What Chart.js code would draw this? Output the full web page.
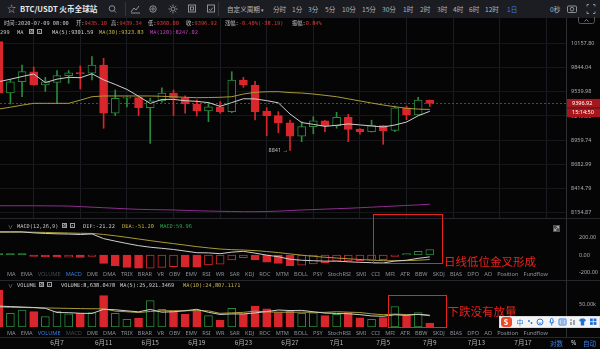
<!DOCTYPE html>
<html>
<head>
<meta charset="utf-8">
<title>BTC/USDT 火币全球站 1日</title>
<script src="https://cdn.jsdelivr.net/npm/chart.js@4.4.1/dist/chart.umd.min.js"></script>
<style>
  html, body { margin: 0; padding: 0; background: #050505; }
  #wrap { position: relative; width: 600px; height: 349px; overflow: hidden; background: #050505;
          font-family: "Noto Sans", "Noto Sans CJK SC", sans-serif; color: #c8c8c8; }
  canvas { position: absolute; left: 0; }
  .t { position: absolute; white-space: nowrap; line-height: 1; }
  .cjk { font-family: "Noto Sans CJK SC", sans-serif; }
  .mono { font-family: "DejaVu Sans Mono", "Noto Sans CJK SC", monospace; font-size: 5.3px; color: #c8c8c8; }
  .r { color: #e0393c; }
  .hl { position: absolute; left: 0; width: 600px; height: 1px; background: #25272c; }
  .tabs { position: absolute; left: 7px; width: 541px; display: flex; justify-content: space-between;
          font-size: 5.6px; line-height: 1; color: #8c9199; }
  .tabs .on { color: #3b7fe0; }
  .tabs .off { color: #46494e; }
  .ico { position: absolute; width: 5px; height: 5px; border: 1px solid #9a9da2; box-sizing: border-box;
         font-size: 4px; line-height: 3px; text-align: center; color: #ddd; }
  .note { position: absolute; white-space: nowrap; color: #e8231c; font-family: "Noto Sans CJK SC", sans-serif;
          font-size: 11.5px; line-height: 1; }
  .box { position: absolute; border: 1.5px solid #e8231c; box-sizing: border-box; }
</style>
</head>
<body>
<div id="wrap">
  <!-- top toolbar -->
  <div style="position:absolute;left:0;top:0;width:600px;height:18px;background:#1b1d22;"></div>
  <div class="t" style="left:7px;top:4px;font-size:9px;color:#b8b8b8;">☆</div>
  <div class="t cjk" style="left:20px;top:5px;font-size:7.6px;font-weight:bold;color:#e8e8e8;">BTC/USDT 火币全球站</div>
  <svg style="position:absolute;left:0;top:0;" width="600" height="18">
    <g fill="none" stroke="#9a9da2" stroke-width="0.9">
      <circle cx="112" cy="8.5" r="2.8"/><line x1="114" y1="10.5" x2="116" y2="12.5"/>
      <polyline points="131,12 134,8 136,10 139,6"/><line x1="131" y1="13" x2="140" y2="13"/>
      <circle cx="153" cy="9" r="3.2"/><circle cx="153" cy="9" r="1.2"/>
      <circle cx="173" cy="9" r="2"/>
      <path d="M173 4.5v1.5M173 12v1.5M168.5 9h1.5M176 9h1.5M169.8 5.8l1 1M175.2 11.2l1 1M169.8 12.2l1-1M175.2 6.8l1-1"/>
      <rect x="188.5" y="5" width="7" height="7"/><rect x="190.5" y="7" width="3" height="3"/>
      <rect x="207.5" y="5" width="7" height="7"/><polyline points="209,9 210.5,10.5 213,7.5"/>
      <rect x="567.5" y="6" width="9" height="6.5" rx="1"/><circle cx="572" cy="9.2" r="1.8"/>
      <path d="M587 6.5v-2h2M593 4.5h2v2M595 11.5v2h-2M589 13.5h-2v-2"/>
    </g>
    <line x1="125.5" y1="2" x2="125.5" y2="16" stroke="#33363c"/>
    <line x1="218.5" y1="2" x2="218.5" y2="16" stroke="#33363c"/>
  </svg>
  <div class="t cjk" style="left:227px;top:5.7px;font-size:6.6px;color:#b4b6ba;">自定义周期 <span style="font-size:5px;">▾</span></div>
  <div class="t cjk" style="left:273px;top:5.7px;font-size:6.6px;color:#b4b6ba;">分时</div>
  <div class="t cjk" style="left:292px;top:5.7px;font-size:6.6px;color:#b4b6ba;">1分</div>
  <div class="t cjk" style="left:308px;top:5.7px;font-size:6.6px;color:#b4b6ba;">3分</div>
  <div class="t cjk" style="left:325px;top:5.7px;font-size:6.6px;color:#b4b6ba;">5分</div>
  <div class="t cjk" style="left:342px;top:5.7px;font-size:6.6px;color:#b4b6ba;">10分</div>
  <div class="t cjk" style="left:362px;top:5.7px;font-size:6.6px;color:#b4b6ba;">15分</div>
  <div class="t cjk" style="left:382px;top:5.7px;font-size:6.6px;color:#b4b6ba;">30分</div>
  <div class="t cjk" style="left:403px;top:5.7px;font-size:6.6px;color:#b4b6ba;">1时</div>
  <div class="t cjk" style="left:420px;top:5.7px;font-size:6.6px;color:#b4b6ba;">2时</div>
  <div class="t cjk" style="left:437px;top:5.7px;font-size:6.6px;color:#b4b6ba;">3时</div>
  <div class="t cjk" style="left:453px;top:5.7px;font-size:6.6px;color:#b4b6ba;">4时</div>
  <div class="t cjk" style="left:469px;top:5.7px;font-size:6.6px;color:#b4b6ba;">6时</div>
  <div class="t cjk" style="left:485px;top:5.7px;font-size:6.6px;color:#b4b6ba;">12时</div>
  <div class="t cjk" style="left:507px;top:5.7px;font-size:6.6px;color:#3b7fe0;">1日</div>
  <div class="t cjk" style="left:550px;top:5.7px;font-size:6.6px;color:#b4b6ba;">0秒</div>

  <!-- the three panels -->
  <canvas id="priceChart" width="600" height="201" style="top:18px;"></canvas>
  <canvas id="macdChart" width="600" height="62" style="top:219px;"></canvas>
  <canvas id="volumeChart" width="600" height="68" style="top:281px;"></canvas>

  <div class="hl" style="top:218px;"></div>
  <div class="hl" style="top:280px;"></div>
  <div class="hl" style="top:337px;"></div>
  <div style="position:absolute;left:566px;top:18px;width:1px;height:320px;background:#2c2e33;"></div>
  <svg style="position:absolute;left:578px;top:17px;" width="18" height="8">
    <path d="M0.5 0v4.5q0 2 2 2h12q2 0 2-2V0" fill="none" stroke="#55585d"/>
    <polyline points="6.5,4.5 8.5,2.5 10.5,4.5" fill="none" stroke="#9a9da2" stroke-width="0.8"/>
  </svg>

  <!-- quote line -->
  <div class="t mono" style="left:4px;top:21px;">时间:2020-07-09 08:00</div>
  <div class="t mono" style="left:76px;top:21px;">开:<span class="r">9435.10</span></div>
  <div class="t mono" style="left:111px;top:21px;">高:<span class="r">9439.34</span></div>
  <div class="t mono" style="left:148px;top:21px;">低:<span class="r">9360.00</span></div>
  <div class="t mono" style="left:186px;top:21px;">收:<span class="r">9396.92</span></div>
  <div class="t mono" style="left:225px;top:21px;">涨幅:<span class="r">-0.40%(-38.19)</span></div>
  <div class="t mono" style="left:292px;top:21px;">振幅:<span class="r">0.84%</span></div>

  <!-- MA legend -->
  <div class="t mono" style="left:0px;top:29.5px;">299</div>
  <div class="t mono" style="left:17px;top:29.5px;">MA</div>
  <div class="ico" style="left:29px;top:29px;">⚙</div>
  <div class="ico" style="left:37px;top:29px;">×</div>
  <div class="t mono" style="left:52px;top:29.5px;color:#d2d2d2;">MA(5):9301.59</div>
  <div class="t mono" style="left:99px;top:29.5px;color:#c9b648;">MA(30):9323.83</div>
  <div class="t mono" style="left:150px;top:29.5px;color:#c244c2;">MA(120):8247.02</div>

  <!-- MACD legend -->
  <div class="t" style="left:8px;top:223.5px;font-size:5px;color:#9a9da2;">∨</div>
  <div class="t mono" style="left:17px;top:223.5px;">MACD(12,26,9)</div>
  <div class="ico" style="left:62px;top:223px;">⚙</div>
  <div class="ico" style="left:70px;top:223px;">×</div>
  <div class="t mono" style="left:83px;top:223.5px;color:#d2d2d2;">DIF:-21.22</div>
  <div class="t mono" style="left:122px;top:223.5px;color:#c9b648;">DEA:-51.20</div>
  <div class="t mono" style="left:160px;top:223.5px;color:#2faa4c;">MACD:59.96</div>
  <svg style="position:absolute;left:553px;top:225px;" width="7" height="7">
    <rect x="0" y="0" width="7" height="7" fill="#4e5156"/>
    <path d="M1.5 5.5l4-4M1.5 3.5v2h2M5.5 3.5v-2h-2" fill="none" stroke="#c8c8c8" stroke-width="0.7"/>
  </svg>

  <!-- VOLUME legend -->
  <div class="t" style="left:8px;top:282.5px;font-size:5px;color:#9a9da2;">∨</div>
  <div class="t mono" style="left:17px;top:282.5px;">VOLUME</div>
  <div class="ico" style="left:39px;top:282px;">⚙</div>
  <div class="ico" style="left:47px;top:282px;">×</div>
  <div class="t mono" style="left:61px;top:282.5px;color:#d2d2d2;">VOLUME:8,638.0478</div>
  <div class="t mono" style="left:120px;top:282.5px;color:#d2d2d2;">MA(5):25,921.3469</div>
  <div class="t mono" style="left:183px;top:282.5px;color:#c9b648;">MA(10):24,807.1171</div>

  <div class="tabs" id="tabsMacd" style="top:272.3px;"></div>
  <div class="tabs" id="tabsVol" style="top:330.5px;"></div>

  <div class="t cjk" style="left:550px;top:340px;font-size:6.5px;color:#3b7fe0;">对数</div>
  <div class="t" style="left:571px;top:340px;font-size:6.5px;color:#d0d0d0;">%</div>
  <div class="t cjk" style="left:583px;top:340px;font-size:6.5px;color:#3b7fe0;">自动</div>

  <!-- marked areas -->
  <div class="box" style="left:373px;top:214px;width:70px;height:50px;"></div>
  <div class="note" style="left:444px;top:256px;">日线低位金叉形成</div>
  <div class="box" style="left:388px;top:295px;width:59px;height:33px;"></div>
  <div class="note" style="left:447.5px;top:306px;">下跌没有放量</div>

  <!-- input method bar -->
  <div style="position:absolute;left:499px;top:316px;width:101px;height:12px;background:#f3f3f3;border:1px solid #dcdcdc;box-sizing:border-box;"></div>
  <div class="t" style="left:500.5px;top:317.3px;width:11px;height:9.5px;background:#ee4a2a;border-radius:3px;color:#fff;font-size:8px;font-weight:bold;text-align:center;line-height:9.5px;">S</div>
  <div class="t cjk" style="left:516.5px;top:318.5px;font-size:7px;color:#1e6fd9;">中</div>
  <svg style="position:absolute;left:526px;top:316px;" width="74" height="12">
    <g fill="#1e6fd9" stroke="none">
      <circle cx="3" cy="5" r="0.9"/><circle cx="5.5" cy="7" r="0.9"/>
    </g>
    <g fill="none" stroke="#1e6fd9" stroke-width="0.9">
      <circle cx="14" cy="6" r="3"/><path d="M12.6 6.8q1.4 1.3 2.8 0"/>
      <rect x="24.5" y="2.5" width="2.5" height="4.5" rx="1.2"/><path d="M23.5 5.5q2.2 3.5 4.5 0M25.7 8v1.5"/>
      <rect x="33" y="3" width="7" height="6" rx="0.8"/><path d="M34.5 5h4M34.5 7h4"/>
    </g>
    <g fill="#9fa3a8"><rect x="44" y="6" width="2" height="3"/><rect x="47" y="4" width="2" height="5"/><circle cx="45" cy="4" r="1"/></g>
    <path d="M53 4l2-1.5h3l2 1.5-1 1.5h-0.8V9.5h-3.4V5.5H54z" fill="#1e6fd9"/>
    <g fill="#1e6fd9"><rect x="64" y="2.5" width="2.8" height="2.8"/><rect x="67.6" y="2.5" width="2.8" height="2.8"/><rect x="64" y="6.1" width="2.8" height="2.8"/><rect x="67.6" y="6.1" width="2.8" height="2.8"/></g>
  </svg>
</div>

<script>
// daily candles, 2 June – 9 July
const dates = ['6月2','6月3','6月4','6月5','6月6','6月7','6月8','6月9','6月10','6月11',
  '6月12','6月13','6月14','6月15','6月16','6月17','6月18','6月19','6月20','6月21',
  '6月22','6月23','6月24','6月25','6月26','6月27','6月28','6月29','6月30','7月1',
  '7月2','7月3','7月4','7月5','7月6','7月7','7月8','7月9'];
const opens = [10180, 9525, 9665, 9790, 9624, 9657, 9741, 9780, 9771, 9876,
  9278, 9460, 9468, 9345, 9430, 9525, 9460, 9390, 9305, 9357,
  9298, 9686, 9624, 9305, 9249, 9165, 9008, 9118, 9189, 9130,
  9230, 9090, 9060, 9130, 9075, 9345, 9258, 9435.10];
const highs = [10230, 9690, 9876, 9850, 9720, 9805, 9805, 9866, 9983, 9962,
  9562, 9480, 9480, 9460, 9590, 9562, 9490, 9440, 9412, 9420,
  9791, 9720, 9670, 9345, 9297, 9198, 9178, 9237, 9195, 9290,
  9265, 9095, 9195, 9135, 9365, 9365, 9470, 9439.34];
const lows = [9270, 9390, 9480, 9620, 9544, 9397, 9645, 9575, 9686, 9100,
  9250, 9355, 9250, 8924, 9412, 9250, 9278, 9245, 9178, 9278,
  9285, 9595, 9198, 9012, 9047, 8841, 8943, 9035, 9060, 9100,
  8943, 9030, 9055, 8913, 9060, 9200, 9255, 9360.00];
const closes = [9525, 9665, 9791, 9624, 9665, 9741, 9778, 9765, 9876, 9278,
  9460, 9468, 9345, 9430, 9525, 9460, 9390, 9305, 9357, 9298,
  9686, 9624, 9297, 9249, 9165, 9008, 9118, 9189, 9130, 9230,
  9087, 9060, 9130, 9070, 9345, 9258, 9439, 9396.92];

const ma5 = [9665, 9696, 9730, 9762, 9654, 9697, 9720, 9715, 9765, 9688,
  9631, 9569, 9485, 9396, 9446, 9446, 9430, 9422, 9407, 9362,
  9407, 9454, 9452, 9431, 9404, 9269, 9167, 9146, 9122, 9135,
  9151, 9139, 9127, 9115, 9138, 9173, 9248, 9301.59];
const ma30 = [9329, 9351, 9376, 9398, 9398, 9398, 9398, 9437, 9479, 9488,
  9488, 9488, 9488, 9488, 9484, 9478, 9472, 9467, 9469, 9472,
  9479, 9512, 9533, 9540, 9541, 9530, 9524, 9512, 9496, 9479,
  9453, 9427, 9402, 9378, 9357, 9338, 9328, 9323.83];
const ma120 = [8231, 8231, 8231, 8231, 8230, 8229, 8228, 8222, 8216, 8210,
  8204, 8198, 8193, 8190, 8188, 8186, 8182, 8178, 8175, 8172,
  8170, 8168, 8168, 8170, 8174, 8180, 8186, 8190, 8195, 8200,
  8204, 8210, 8216, 8222, 8228, 8234, 8240, 8247.02];

// MACD(12,26,9)
const dif = [261.0, 261.0, 260.9, 250.0, 243.8, 239.2, 236.7, 231.8, 237.8, 185.1,
  156.5, 130.1, 105.9, 87.8, 75.4, 62.4, 44.6, 26.0, 23.9, 14.8,
  32.3, 41.5, 21.5, -1.7, -19.5, -48.1, -59.5, -64.5, -69.5, -69.2,
  -76.7, -82.7, -87.0, -90.5, -68.2, -59.0, -37.7, -21.22];
const dea = [258.5, 259.0, 259.4, 257.5, 254.8, 251.7, 248.7, 245.3, 243.8, 232.1,
  217.0, 199.6, 180.9, 162.3, 144.9, 128.4, 111.6, 94.5, 80.4, 67.3,
  60.3, 56.5, 49.5, 39.3, 27.5, 12.4, -2.0, -14.5, -25.5, -34.2,
  -42.7, -50.7, -58.0, -64.5, -65.2, -64.0, -58.7, -51.20];
const macdHist = [5, 4, 3, -15, -22, -25, -24, -27, -12, -94,
  -121, -139, -150, -149, -139, -132, -134, -137, -113, -105,
  -56, -30, -56, -82, -94, -121, -115, -100, -88, -70,
  -68, -64, -58, -52, -6, 10, 42, 59.96];

// volume
const volumes = [81500, 30000, 37000, 34000, 23000, 35000, 29000, 30000, 32000, 69000,
  30000, 17000, 19000, 58000, 39000, 35000, 28000, 35000, 25000, 15000,
  41000, 28000, 46000, 40000, 32000, 35000, 30000, 31000, 25000, 28000,
  32000, 20000, 17000, 21000, 45000, 25000, 32000, 8638.0478];
const volMa5 = [46000, 45000, 44000, 43000, 41100, 31800, 31600, 30200, 29800, 39000,
  38000, 35600, 33400, 38600, 32600, 33600, 35800, 39000, 32400, 27600,
  28800, 28800, 31000, 34000, 37400, 36200, 36600, 33600, 30600, 29800,
  29200, 27200, 24400, 23600, 27000, 25600, 28000, 25921.3469];
const volMa10 = [44000, 43500, 43000, 42500, 42000, 41500, 41000, 40500, 40200, 40050,
  34900, 33600, 31800, 34200, 35800, 35800, 35700, 36200, 35500, 30100,
  31200, 32300, 35000, 33200, 32500, 32500, 32700, 32300, 32300, 33600,
  32700, 31900, 29000, 27100, 28400, 27400, 27600, 24807.1171];

// axis ticks
const priceTicks = [10157.80, 9844.04, 9539.98, 9245.33, 8959.74, 8682.99, 8414.79, 8154.87];
const macdTicks = [200, 0, -200];
const volumeTicks = [50000];
const axisDays = [5, 9, 13, 17, 21, 25, 29, 33, 37, 41, 45];
const axisLabels = ['6月7', '6月11', '6月15', '6月19', '6月23', '6月27', '7月1', '7月5', '7月9', '7月13', '7月17'];

const tabNames = ['MA', 'EMA', 'VOLUME', 'MACD', 'DMI', 'DMA', 'TRIX', 'BRAR', 'VR', 'OBV', 'EMV', 'RSI', 'WR',
  'SAR', 'KDJ', 'ROC', 'MTM', 'BOLL', 'PSY', 'StochRSI', 'SMI', 'CCI', 'MFI', 'ATR', 'BBW', 'SKDJ',
  'BIAS', 'DPO', 'AO', 'Position', 'Fundflow'];

// visible window (in days from the first candle) and value ranges
const X_MIN = 0.107, X_MAX = 48.69;
const P_MIN = 8091, P_MAX = 10496;
const M_MIN = -293.8, M_MAX = 406.8;
const V_MAX = 101300;

const RED = '#d9262c';
const GREEN = '#2b8a3e';
const BG = '#050505';
const TICK_FONT = { family: 'Noto Sans', size: 5.5 };

function buildTabs(id, active, dim) {
  const row = document.getElementById(id);
  tabNames.forEach(name => {
    const s = document.createElement('span');
    s.textContent = name;
    if (name === active) s.className = 'on';
    if (name === dim) s.className = 'off';
    row.appendChild(s);
  });
}
buildTabs('tabsMacd', 'MACD', 'VOLUME');
buildTabs('tabsVol', 'VOLUME', 'MACD');

const idx = dates.map((d, i) => i);
const isUp = idx.map(i => closes[i] >= opens[i]);
const candleColor = isUp.map(up => up ? GREEN : RED);
const series = arr => idx.map(i => ({ x: i, y: arr[i] }));

// fixed axis sizes so the three panels share one plot width
function fixY(scale) {
  scale.width = 34;
  scale.paddingTop = 0;
  scale.paddingBottom = 0;
}
function xScale(extra) {
  return Object.assign({
    type: 'linear',
    min: X_MIN,
    max: X_MAX,
    offset: false,
    bounds: 'data',
    afterBuildTicks: s => { s.ticks = axisDays.map(v => ({ value: v })); }
  }, extra);
}
function yScale(extra, ticksList, fmt) {
  return Object.assign({
    position: 'right',
    bounds: 'data',
    afterFit: fixY,
    afterBuildTicks: s => { s.ticks = ticksList.map(v => ({ value: v })); },
    border: { display: false },
    grid: { drawTicks: false, color: '#15171b' },
    ticks: { color: '#a9acb2', font: TICK_FONT, padding: 5, autoSkip: false, callback: fmt }
  }, extra);
}
const baseOptions = {
  responsive: false,
  animation: false,
  devicePixelRatio: 1,
  events: [],
  layout: { padding: 0 },
  plugins: { legend: { display: false }, tooltip: { enabled: false } }
};
const line = (data, color, order) => ({
  type: 'line', data, borderColor: color, borderWidth: 1, pointRadius: 0, tension: 0, order
});

// last price line, price tags and the lowest-low marker
const priceMarks = {
  id: 'priceMarks',
  beforeDatasetsDraw(chart) {
    const { ctx, chartArea, scales } = chart;
    const y = Math.round(scales.y.getPixelForValue(closes[closes.length - 1])) + 0.5;
    ctx.save();
    ctx.strokeStyle = '#a3242a';
    ctx.lineWidth = 1;
    ctx.setLineDash([2, 2]);
    ctx.beginPath();
    ctx.moveTo(chartArea.left, y);
    ctx.lineTo(chartArea.right, y);
    ctx.stroke();
    ctx.restore();
  },
  afterDraw(chart) {
    const { ctx, chartArea, scales } = chart;
    const last = closes[closes.length - 1];
    const y = scales.y.getPixelForValue(last);
    ctx.save();
    ctx.fillStyle = '#a8161d';
    ctx.fillRect(chartArea.right + 1, y - 4.5, 34, 8.8);
    ctx.fillRect(chartArea.right + 1, y + 4.8, 34, 8.8);
    ctx.fillStyle = '#ffffff';
    ctx.font = '5.5px "Noto Sans"';
    ctx.textBaseline = 'middle';
    ctx.fillText(last.toFixed(2), chartArea.right + 6, y);
    ctx.fillText('15:14:50', chartArea.right + 6, y + 9.3);

    let lo = 0;
    lows.forEach((v, i) => { if (v < lows[lo]) lo = i; });
    const lx = scales.x.getPixelForValue(lo);
    const ly = scales.y.getPixelForValue(lows[lo]);
    ctx.fillStyle = '#bdbdbd';
    ctx.textAlign = 'right';
    ctx.fillText(lows[lo] + ' →', lx - 2, ly);
    ctx.restore();
  }
};

new Chart(document.getElementById('priceChart'), {
  type: 'bar',
  data: {
    datasets: [
      line(series(ma5), '#cfcfcf', 0),
      line(series(ma30), '#a99b36', 0),
      line(series(ma120), '#8e2e8e', 0),
      {
        data: idx.map(i => ({ x: i, y: [Math.min(opens[i], closes[i]), Math.max(opens[i], closes[i])] })),
        backgroundColor: idx.map(i => isUp[i] ? BG : RED),
        borderColor: candleColor,
        borderWidth: 1,
        borderSkipped: false,
        barThickness: 8,
        minBarLength: 1,
        grouped: false,
        order: 1
      },
      {
        data: idx.map(i => ({ x: i, y: [lows[i], highs[i]] })),
        backgroundColor: candleColor,
        borderWidth: 0,
        barThickness: 1,
        grouped: false,
        order: 2
      }
    ]
  },
  options: Object.assign({}, baseOptions, {
    scales: {
      x: xScale({
        afterFit: s => { s.height = 0; s.paddingLeft = 0; s.paddingRight = 0; },
        border: { display: false },
        grid: { drawTicks: false, color: '#1a1c21' },
        ticks: { display: false }
      }),
      y: yScale({ type: 'logarithmic', min: P_MIN, max: P_MAX }, priceTicks, v => Number(v).toFixed(2))
    }
  }),
  plugins: [priceMarks]
});

// MACD histogram: hollow when it rises, filled when it falls
const histFill = macdHist.map((v, i) => {
  const rising = i > 0 && v >= macdHist[i - 1];
  if (rising) return BG;
  return v >= 0 ? GREEN : RED;
});
const histLine = macdHist.map(v => v >= 0 ? GREEN : RED);

new Chart(document.getElementById('macdChart'), {
  type: 'bar',
  data: {
    datasets: [
      line(series(dif), '#cfcfcf', 0),
      line(series(dea), '#a99b36', 0),
      {
        data: series(macdHist),
        backgroundColor: histFill,
        borderColor: histLine,
        borderWidth: 1,
        borderSkipped: false,
        barThickness: 8,
        minBarLength: 1.5,
        grouped: false,
        order: 1
      }
    ]
  },
  options: Object.assign({}, baseOptions, {
    scales: {
      x: xScale({ display: false }),
      y: yScale({ type: 'linear', min: M_MIN, max: M_MAX, grid: { display: false } }, macdTicks, v => Number(v).toFixed(2))
    }
  })
});

new Chart(document.getElementById('volumeChart'), {
  type: 'bar',
  data: {
    datasets: [
      line(series(volMa5), '#cfcfcf', 0),
      line(series(volMa10), '#a99b36', 0),
      {
        data: series(volumes),
        backgroundColor: idx.map(i => isUp[i] ? BG : RED),
        borderColor: candleColor,
        borderWidth: 1,
        borderSkipped: false,
        barThickness: 8,
        grouped: false,
        order: 1
      }
    ]
  },
  options: Object.assign({}, baseOptions, {
    scales: {
      x: xScale({
        afterFit: s => { s.height = 22; s.paddingLeft = 0; s.paddingRight = 0; },
        border: { display: false },
        grid: { display: false, drawTicks: false },
        ticks: {
          color: '#b4b6ba',
          font: { family: 'Noto Sans CJK SC', size: 6.5 },
          padding: 12,
          autoSkip: false,
          maxRotation: 0,
          callback: v => axisLabels[axisDays.indexOf(v)]
        }
      }),
      y: yScale({ type: 'linear', min: 0, max: V_MAX, grid: { display: false } }, volumeTicks, v => (v / 1000).toFixed(2) + 'k')
    }
  })
});
</script>
</body>
</html>
